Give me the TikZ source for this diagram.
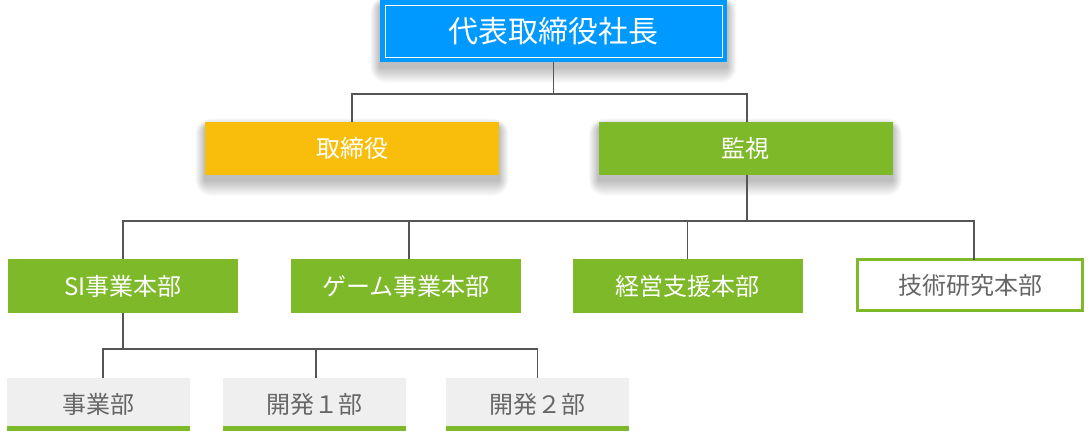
\documentclass[tikz,border=0pt]{standalone}
\usepackage{fontspec}
\setmainfont{Noto Sans CJK JP}
\usetikzlibrary{backgrounds}
\definecolor{ceoblue}{HTML}{0099FF}
\definecolor{boardorange}{HTML}{F9BE0C}
\definecolor{orggreen}{HTML}{7DB928}
\definecolor{deptgray}{HTML}{EFEFEF}
\definecolor{deptfont}{HTML}{666666}
\definecolor{linegray}{HTML}{555555}
\tikzset{
  x=1pt, y=-1pt,
  box/.style={rectangle, inner sep=0pt, outer sep=0pt, font=\fontsize{24}{28}\selectfont},
  ceo/.style={box, fill=ceoblue, text=white, minimum width=347pt, minimum height=62pt,
    font=\fontsize{30}{34}\selectfont},
  board/.style={box, text=white, minimum width=294pt, minimum height=53pt},
  division/.style={box, fill=orggreen, text=white, minimum width=230pt, minimum height=54pt},
  opendivision/.style={box, draw=orggreen, line width=3pt, fill=white, text=deptfont,
    minimum width=225pt, minimum height=51pt},
  dept/.style={box, fill=deptgray, text=deptfont, minimum width=183pt, minimum height=53pt},
  link/.style={draw=linegray, line width=1.3pt},
}
\begin{document}
\begin{tikzpicture}
\useasboundingbox (0,0) rectangle (1088,431);

% top
\node[ceo] (ceo) at (553.5,31) {代表取締役社長};
\draw[white, line width=0.8pt] ([shift={(5,5)}]ceo.north west) rectangle ([shift={(-5,-5)}]ceo.south east);

% second row
\node[board, fill=boardorange] (board) at (352,148.5) {取締役};
\node[board, fill=orggreen] (audit) at (745.5,148.5) {監視};

% divisions
\node[division] (si) at (123,286) {SI事業本部};
\node[division] (game) at (406,286) {ゲーム事業本部};
\node[division] (mgmt) at (687.5,286) {経営支援本部};
\node[opendivision] (rnd) at (970,285) {技術研究本部};

% departments with green base line
\node[dept] (biz) at (98.5,404.5) {事業部};
\node[dept] (dev1) at (314.5,404.5) {開発１部};
\node[dept] (dev2) at (537.5,404.5) {開発２部};
\foreach \d in {biz,dev1,dev2}
  \fill[orggreen] (\d.south west) rectangle ([yshift=5pt]\d.south east);

% connectors
\draw[link] (ceo.south) -- ++(0,32);
\draw[link] (board.north) -- ++(0,-28) -| ([xshift=1.5pt]audit.north);
\draw[link] ([xshift=1.5pt]audit.south) -- ++(0,46);
\draw[link] (si.north) -- ++(0,-38) -| ([xshift=4pt]rnd.north);
\draw[link] ([xshift=3pt]game.north) -- ++(0,-38);
\draw[link] (mgmt.north) -- ++(0,-38);
\draw[link] (si.south) -- ++(0,35);
\draw[link] ([xshift=4.5pt]biz.north) -- ++(0,-29) -| (dev2.north);
\draw[link] ([xshift=1.5pt]dev1.north) -- ++(0,-29);

% page and soft shadows
\begin{scope}[on background layer]
  \fill[white] (0,0) rectangle (1088,431);
  \foreach \n in {ceo,board,audit}
    \foreach \i in {1,...,16}
      \fill[black, opacity=0.016, rounded corners=\i pt]
        ([shift={(-0.6*\i,6-0.6*\i)}]\n.north west) rectangle ([shift={(0.6*\i,5+\i)}]\n.south east);
\end{scope}
\end{tikzpicture}
\end{document}
